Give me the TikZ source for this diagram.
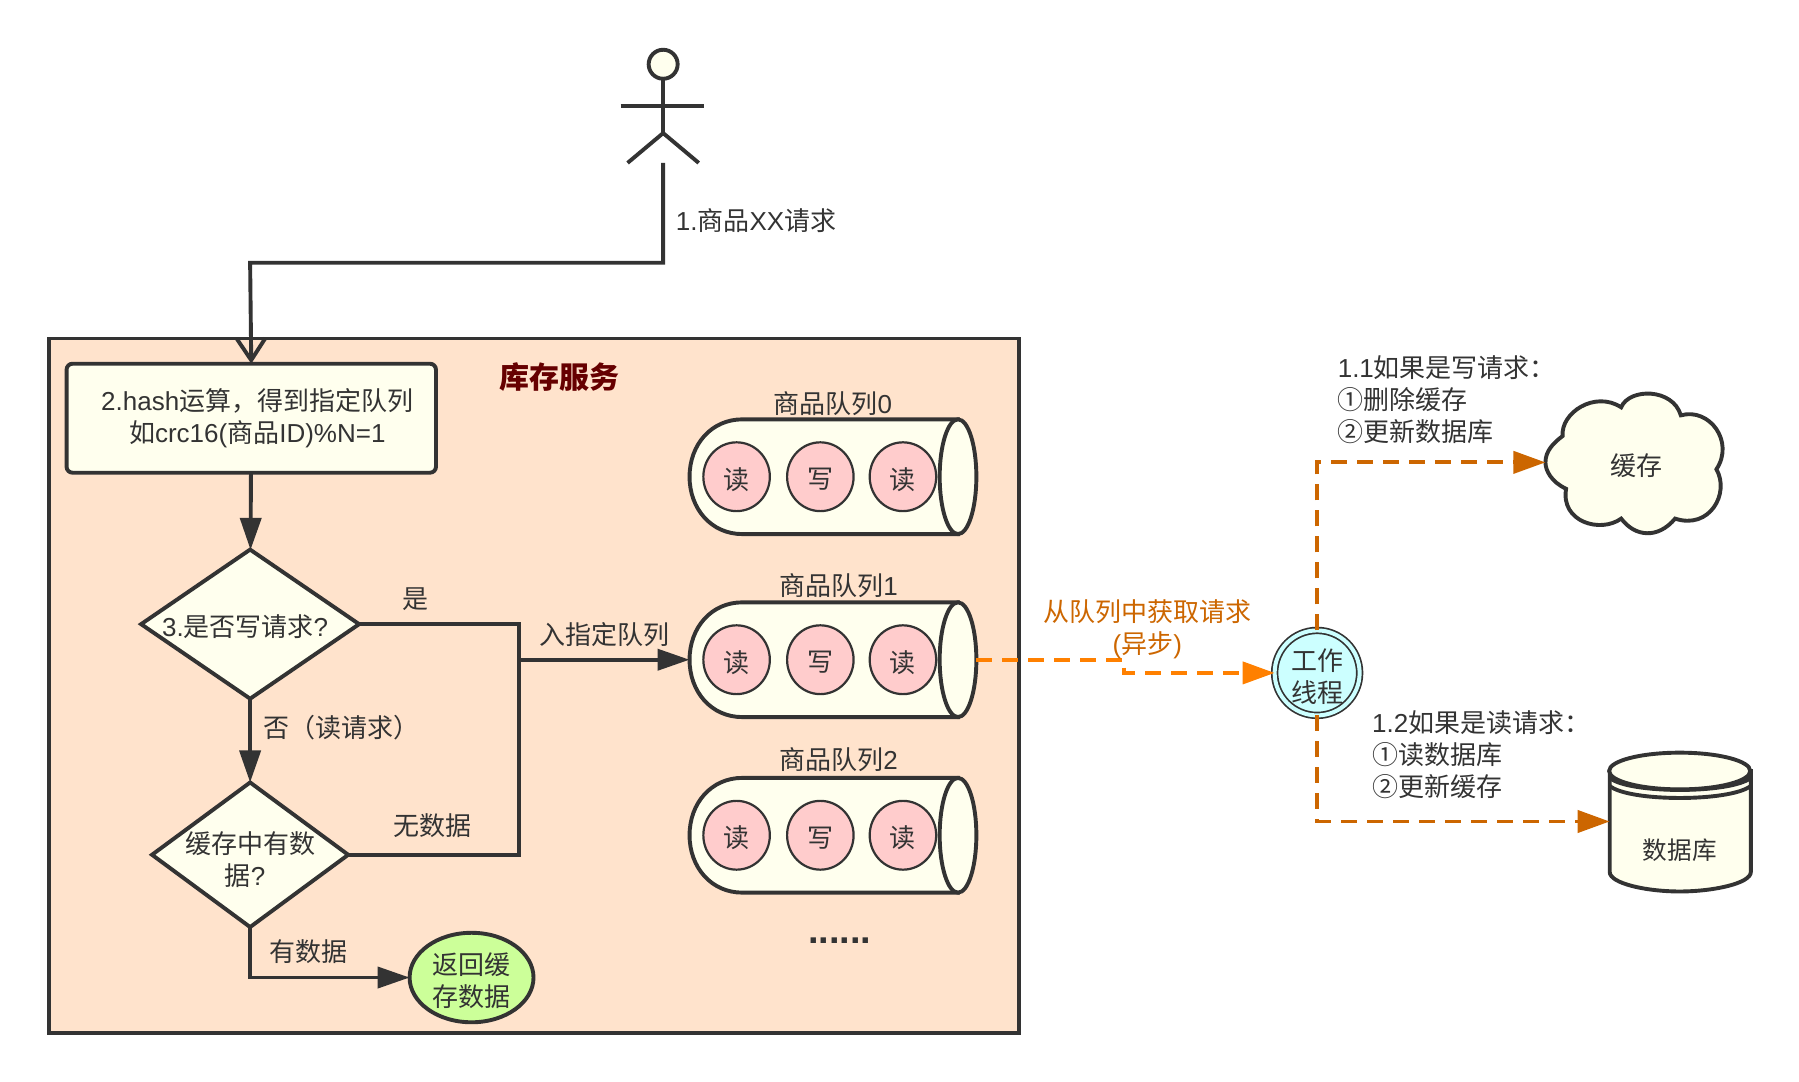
\documentclass[tikz,border=0pt]{standalone}
\usepackage{fontspec}
\setmainfont{Noto Sans CJK SC}
\newfontfamily\latfont{Liberation Sans}
\newcommand{\lat}[1]{{\latfont #1}}
\newcommand{\lowered}[1]{\raisebox{-2.6pt}[\height][\depth]{#1}}
\usetikzlibrary{arrows.meta,shapes.geometric}
\definecolor{inkgray}{HTML}{333333}
\definecolor{paleyellow}{HTML}{FFFFEE}
\definecolor{panelfill}{HTML}{FFE3CC}
\definecolor{readpink}{HTML}{FFCCCC}
\definecolor{hitgreen}{HTML}{CCFF99}
\definecolor{workcyan}{HTML}{CCFFFF}
\definecolor{fetchorange}{HTML}{FF8000}
\definecolor{taskorange}{HTML}{CC6600}
\tikzset{
	every node/.style = {font=\fontsize{26}{32.3}\selectfont, text=inkgray, align=center, inner sep=0pt, outer sep=0pt},
	outline/.style = {draw=inkgray, line width=3.9pt, fill=paleyellow},
	wire/.style = {draw=inkgray, line width=3.9pt},
	flow/.style = {wire, -{Triangle[length=32pt,width=21pt]}},
	fetch/.style = {draw=fetchorange, line width=3.9pt, dash pattern=on 16pt off 10pt, -{Triangle[length=32pt,width=22pt]}},
	task/.style = {draw=taskorange, line width=3.9pt, dash pattern=on 16pt off 10pt, -{Triangle[length=32pt,width=22pt]}},
	request/.style = {ellipse, draw=inkgray, line width=2.2pt, fill=readpink, minimum width=66.5pt, minimum height=68.8pt},
	queueend/.style = {ellipse, outline, minimum width=36.7pt, minimum height=114.7pt},
	decision/.style = {diamond, outline, inner xsep=-20pt, inner ysep=-10pt},
}
\begin{document}
\begin{tikzpicture}[x=1.1473pt, y=-1.1473pt]
	\useasboundingbox (0,0) rectangle (1568,943);
	%
	\node[rectangle, wire, fill=panelfill, minimum width=969.5pt, minimum height=694.1pt] (panel) at (465.5,597.5) {};
	\node[font=\fontsize{30}{36}\selectfont\bfseries, text={rgb,255:red,102;green,0;blue,0}] (title) at (488,329) {库存服务};
	%
	% actor
	\node[circle, outline, minimum size=29pt] (head) at (578,56) {};
	\coordinate (hip) at (578,116);
	\coordinate (actorfoot) at (578,142);
	\draw[wire] (head.south) -- (hip);
	\draw[wire] (541,92) -- (614,92);
	\draw[wire] (547,142) -- (hip) -- (609,142);
	%
	% flow chart
	\node[rectangle, rounded corners=6pt, outline, minimum width=369.4pt, minimum height=109pt] (hashbox) at (219,364.5) {\hspace*{12pt}\lat{2.hash}运算，得到指定队列\\\hspace*{12pt}如\lat{crc16(}商品\lat{ID)\%N=1}};
	\node[decision, minimum width=218pt, minimum height=149.1pt] (iswrite) at (218,544) {\lowered{\lat{3.}是否写请求\lat{?}}\hspace*{10pt}};
	\node[decision, minimum width=196.2pt, minimum height=144.6pt, label={[yshift=-4.5pt]center:{缓存中有数\\据\lat{?}\hspace*{10pt}}}] (hascache) at (218,745) {};
	\node[ellipse, outline, fill=hitgreen, minimum width=123.9pt, minimum height=89.5pt, label={[yshift=-3.4pt]center:{返回缓\\存数据}}] (hit) at (411,852) {};
	\coordinate (join) at (452,575);
	%
	\draw[wire, -{Straight Barb[length=22pt,width=29pt]}] (actorfoot) -- (578,229) -- (218,229) -- (hashbox.north);
	\draw[flow] (hashbox) -- (iswrite);
	\draw[flow] (iswrite) -- (hascache);
	\draw[flow] (hascache.south) |- (hit);
	\draw[wire] (iswrite.east) -| (join);
	\draw[wire] (hascache.east) -| (join);
	%
	\node (labelreq) at (659,192) {\lat{1.}商品\lat{XX}请求};
	\node (labelyes) at (362,522) {是};
	\node (labelno) at (298,634) {否（读请求）};
	\node (labelmiss) at (377,720) {无数据};
	\node (labelhit) at (269,829) {有数据};
	\node (labelenq) at (527,553) {入指定队列};
	%
	% queues
	\foreach \y/\i/\lx/\ly in {415.5/0/726/352, 575/1/731/510, 728/2/731/662}{
		\draw[outline] (835,\y-50) -- (647,\y-50) .. controls (620,\y-50) and (601,\y-28) .. (601,\y) .. controls (601,\y+28) and (620,\y+50) .. (647,\y+50) -- (835,\y+50) -- cycle;
		\node[queueend] (qend\i) at (835,\y) {};
		\coordinate (qin\i) at (601,\y);
		\node[request] (first\i) at (642,\y) {\lowered{读}};
		\node[request] (second\i) at (715,\y) {\lowered{写}};
		\node[request] (third\i) at (787,\y) {\lowered{读}};
		\node (qname\i) at (\lx,\ly) {商品队列\lat{\i}};
	}
	\node[anchor=base, font=\fontsize{38}{38}\latfont\bfseries] (more) at (732,822) {......};
	\draw[flow] (join) -- (qin1);
	%
	% worker
	\node[circle, draw=inkgray, line width=1.7pt, double=workcyan, double distance=4pt, fill=workcyan, minimum size=85pt, label={[yshift=-3.4pt]center:{工作\\线程}}] (worker) at (1148,586.5) {};
	\coordinate (step) at (980,575);
	\coordinate (stepdown) at (980,586.5);
	\draw[fetch] (qend1.east) -- (step) -- (stepdown) -- (worker.west);
	\node[text=taskorange] (labelfetch) at (1000,548.5) {从队列中获取请求\\\lat{(}异步\lat{)}};
	%
	% cache
	\draw[outline] (1347,403) .. controls (1347,393) and (1354,386) .. (1362,380) .. controls (1360,360) and (1390,340) .. (1413,355) .. controls (1420,338) and (1458,338) .. (1465,362) .. controls (1490,355) and (1512,385) .. (1496,409) .. controls (1508,430) and (1490,462) .. (1460,452) .. controls (1445,470) and (1425,468) .. (1413,452) .. controls (1395,465) and (1360,455) .. (1365,426) .. controls (1352,420) and (1347,410) .. (1347,403) -- cycle;
	\node (cache) at (1426,406) {缓存};
	\coordinate (cacheleft) at (1347,403);
	\draw[task] (worker.north) |- (cacheleft);
	\node[anchor=north west, align=left] (labelwrite) at (1166,309.6) {\lat{1.1}如果是写请求：\\①删除缓存\\②更新数据库};
	%
	% database
	\draw[outline] (1403,672) -- (1403,760) .. controls (1403,770) and (1435,777) .. (1464,777) .. controls (1493,777) and (1526,770) .. (1526,760) -- (1526,672) -- cycle;
	\draw[outline] (1464,672) ellipse [x radius=61.5, y radius=16];
	\draw[wire] (1403,678) .. controls (1420,692) and (1508,692) .. (1526,678);
	\draw[wire] (1403,685) .. controls (1420,699) and (1508,699) .. (1526,685);
	\node[font=\fontsize{24.6}{30}\selectfont] (database) at (1464,741) {数据库};
	\coordinate (dbleft) at (1403,716);
	\draw[task] (worker.south) |- (dbleft);
	\node[anchor=north west, align=left] (labelread) at (1196,619) {\lat{1.2}如果是读请求：\\①读数据库\\②更新缓存};
	%
\end{tikzpicture}
\end{document}
